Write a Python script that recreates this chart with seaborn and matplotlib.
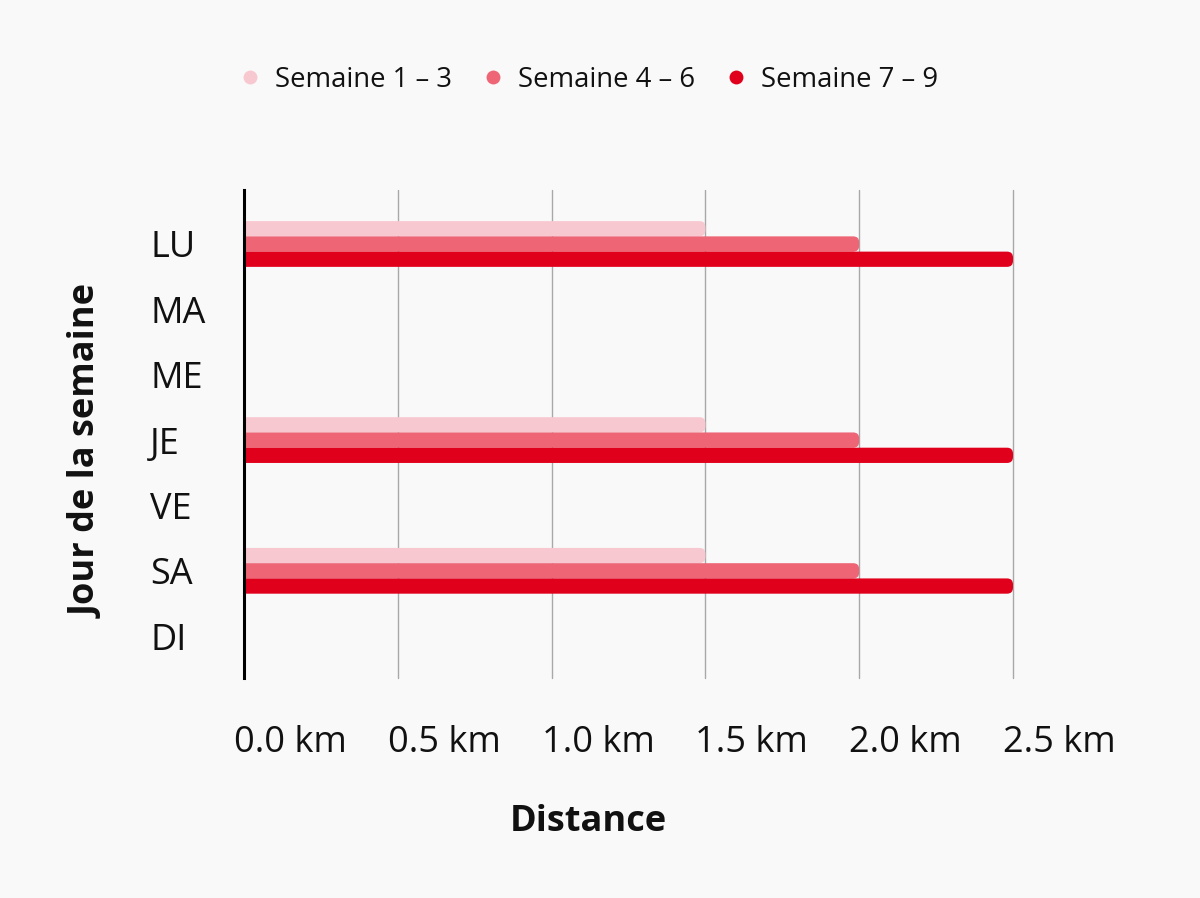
import numpy as np
import pandas as pd
import matplotlib
matplotlib.use("Agg")
import matplotlib.pyplot as plt
import matplotlib.transforms as mtransforms
from matplotlib.patches import FancyBboxPatch
from matplotlib.lines import Line2D
import seaborn as sns

# ---- data ----
days = ["LU", "MA", "ME", "JE", "VE", "SA", "DI"]
series = ["Semaine 1 – 3", "Semaine 4 – 6", "Semaine 7 – 9"]
weeks_1_3 = [1.5, 0, 0, 1.5, 0, 1.5, 0]
weeks_4_6 = [2.0, 0, 0, 2.0, 0, 2.0, 0]
weeks_7_9 = [2.5, 0, 0, 2.5, 0, 2.5, 0]
x_ticks = [0.0, 0.5, 1.0, 1.5, 2.0, 2.5]
x_tick_labels = ["0.0 km", "0.5 km", "1.0 km", "1.5 km", "2.0 km", "2.5 km"]
colors = ["#f8c8d0", "#ee6676", "#e1001c"]

df = pd.DataFrame({
    "day": days * 3,
    "serie": [series[0]] * 7 + [series[1]] * 7 + [series[2]] * 7,
    "dist": weeks_1_3 + weeks_4_6 + weeks_7_9,
})

sns.set_theme(style="white")
plt.rcParams["font.family"] = ["Open Sans", "DejaVu Sans"]
bg = "#f9f9f9"

W, H = 1200, 898
fig = plt.figure(figsize=(W / 100, H / 100), dpi=100, facecolor=bg)
ax = fig.add_axes([244 / W, 220 / H, 769 / W, 488 / H])
ax.set_facecolor(bg)

sns.barplot(data=df, x="dist", y="day", hue="serie", orient="h",
            order=days, hue_order=series, palette=colors, saturation=1,
            width=0.7, ax=ax, legend=False)

ax.set_xlim(0, 2.5)
ax.set_ylim(6.64, -0.826)

# rounded bar ends
px_x = 769 / 2.5
px_y = 488 / 7.466
r_px = 6
rx = r_px / px_x
ry = r_px / px_y
ext = 0.05
for p in list(ax.patches):
    w = p.get_width()
    if w <= 0:
        p.remove()
        continue
    x0, y0, h = p.get_x(), p.get_y(), p.get_height()
    fc = p.get_facecolor()
    p.remove()
    fb = FancyBboxPatch((x0 - ext, y0), w + ext, h,
                        boxstyle=f"round,pad=0,rounding_size={rx}",
                        mutation_aspect=ry / rx, fc=fc, ec="none", zorder=2)
    ax.add_patch(fb)

# grid and spines
ax.set_axisbelow(True)
ax.grid(axis="x", color="#a8a8a8", lw=1)
ax.grid(axis="y", visible=False)
for gl in ax.get_xgridlines():
    gl.set_clip_on(False)
for s in ["top", "right", "bottom"]:
    ax.spines[s].set_visible(False)
ax.spines["left"].set_color("black")
ax.spines["left"].set_linewidth(2.2)
ax.spines["left"].set_zorder(5)

ax.set_xticks(x_ticks)
ax.set_xticklabels(x_tick_labels, fontsize=26, color="#111111")
ax.tick_params(axis="x", length=0, pad=34)
off = mtransforms.ScaledTranslation(-0.10, 0, fig.dpi_scale_trans)
for lbl in ax.get_xticklabels():
    lbl.set_ha("left")
    lbl.set_transform(lbl.get_transform() + off)

ax.set_yticks(range(len(days)))
ax.set_yticklabels(days, fontsize=26, color="#111111")
ax.tick_params(axis="y", length=0, pad=94 * 0.72)
for lbl in ax.get_yticklabels():
    lbl.set_ha("left")

ax.set_xlabel("")
ax.set_ylabel("")

fig.text(588 / W, 1 - 822 / H, "Distance", fontsize=26, fontweight="bold",
         ha="center", va="center", color="#111111")
fig.text(88 / W, 1 - 451 / H, "Jour de la semaine", fontsize=26,
         fontweight="bold", rotation=90, ha="center", va="center",
         color="#111111")

handles = [Line2D([], [], ls="none", marker="o", markersize=10,
                  markerfacecolor=c, markeredgecolor="none") for c in colors]
fig.legend(handles, series, loc="center", bbox_to_anchor=(587 / W, 1 - 80 / H),
           ncol=3, frameon=False, fontsize=19.8, handletextpad=0.4,
           columnspacing=1.0, handlelength=1.0, labelcolor="#111111")

fig.savefig("out.png", dpi=100, facecolor=bg)
